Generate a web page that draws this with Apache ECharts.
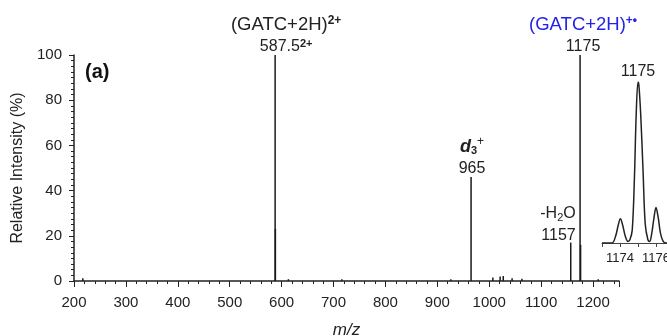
<!DOCTYPE html>
<html>
<head>
    <meta charset="utf-8">
    <title>ECharts</title>
    <script src="https://cdn.jsdelivr.net/npm/echarts@6/dist/echarts.min.js"></script>
</head>
<body style="margin:0">
    <div id="main" style="width: 667px;height:336px;"></div>
    <script>
        var myChart = echarts.init(document.getElementById("main"));

        // main spectrum: m/z and relative intensity (%)
        var peakMz = [217, 587.5, 588, 613, 716, 926, 965, 1007, 1021, 1027, 1044, 1063, 1157, 1175, 1176, 1210];
        var peakInt = [1.2, 100, 23, 0.8, 0.8, 0.8, 46, 1.5, 2, 2.2, 1.2, 1, 17, 100, 16, 0.8];

        // inset profile around 1175
        var insetMz = [1173.0, 1173.55, 1173.75, 1173.9, 1174.02, 1174.15, 1174.3, 1174.45, 1174.55, 1174.68,
            1174.8, 1174.9, 1175.0, 1175.05, 1175.15, 1175.28, 1175.4, 1175.55, 1175.65, 1175.75,
            1175.88, 1176.0, 1176.12, 1176.25, 1176.4, 1176.55, 1177.0];
        var insetInt = [0, 0, 4, 11, 15, 11, 4, 1, 2, 8,
            40, 80, 100, 98, 80, 45, 12, 2, 1, 5,
            15, 22, 16, 6, 1, 0, 0];

        var xTicks = [200, 300, 400, 500, 600, 700, 800, 900, 1000, 1100, 1200];
        var insetTicks = [1174, 1176];

        var font = 'Liberation Sans, Arial, sans-serif';
        var ink = '#222';
        var blue = '#2323e8';

        var rich = {
            a: { fontSize: 18.5, color: ink, lineHeight: 23, fontFamily: font },
            n: { fontSize: 16, color: ink, lineHeight: 22, fontFamily: font },
            sup: { fontSize: 12, fontWeight: 'bold', color: ink, padding: [0, 0, 8, 0], fontFamily: font },
            nsup: { fontSize: 11, fontWeight: 'bold', color: ink, padding: [0, 0, 7, 0], fontFamily: font },
            b: { fontSize: 18.5, color: blue, lineHeight: 23, fontFamily: font },
            bsup: { fontSize: 12, fontWeight: 'bold', color: blue, padding: [0, 0, 8, 0], fontFamily: font },
            d: { fontSize: 18, fontWeight: 'bold', fontStyle: 'italic', color: ink, lineHeight: 23, fontFamily: font },
            dsub: { fontSize: 11, fontWeight: 'bold', color: ink, padding: [8, 0, 0, 0], fontFamily: font },
            dsup: { fontSize: 12, color: ink, padding: [0, 0, 10, 0], fontFamily: font },
            sub: { fontSize: 11, color: ink, padding: [8, 0, 0, 0], fontFamily: font }
        };

        var peakLabels = {
            587.5: { formatter: '{a|(GATC+2H)}{sup|2+}\n{n|587.5}{nsup|2+}', offset: [11, 0] },
            965: { formatter: '{d|d}{dsub|3}{dsup|+}\n{n|965}', offset: [1, 0] },
            1157: { formatter: '{n|-H}{sub|2}{n|O}\n{n|1157}', align: 'right', offset: [5, 0], distance: -4 },
            1175: { formatter: '{b|(GATC+2H)}{bsup|+•}\n{n|1175}', offset: [3, 0] }
        };

        var barData = peakMz.map(function (mz, i) {
            var item = { value: [mz, peakInt[i]] };
            if (peakLabels[mz]) {
                item.label = Object.assign({ show: true, position: 'top', distance: -3, rich: rich }, peakLabels[mz]);
            }
            return item;
        });

        var insetData = insetMz.map(function (mz, i) {
            var item = { value: [mz, insetInt[i]] };
            if (mz === 1175.0) {
                item.label = { show: true, position: 'top', distance: 2, formatter: '1175', fontSize: 16, color: ink, fontFamily: font };
            }
            return item;
        });

        option = {
            animation: false,
            textStyle: { fontFamily: font },
            grid: [
                { left: 74, top: 55, width: 545, height: 226, outerBoundsMode: 'none' },
                { left: 602, top: 82, width: 72, height: 161, outerBoundsMode: 'none' }
            ],
            xAxis: [{
                type: 'value',
                gridIndex: 0,
                min: 200,
                max: 1250,
                interval: 100,
                name: 'm/z',
                nameLocation: 'middle',
                nameGap: 41,
                nameTextStyle: { fontSize: 17, fontStyle: 'italic', color: ink },
                axisLine: { lineStyle: { color: ink, width: 1.5 } },
                axisTick: { length: 6, lineStyle: { color: ink } },
                minorTick: { show: true, splitNumber: 5, length: 3, lineStyle: { color: ink } },
                splitLine: { show: false },
                axisLabel: {
                    fontSize: 15, color: ink, margin: 14, showMaxLabel: false,
                    formatter: function (v) { return xTicks.indexOf(v) >= 0 ? String(v) : ''; }
                }
            }, {
                type: 'value',
                gridIndex: 1,
                min: 1173,
                max: 1177,
                interval: 1,
                axisLine: { lineStyle: { color: '#444', width: 1 } },
                axisTick: { length: 4, lineStyle: { color: '#444' } },
                splitLine: { show: false },
                axisLabel: {
                    fontSize: 13, color: ink, margin: 9,
                    formatter: function (v) { return insetTicks.indexOf(v) >= 0 ? String(v) : ''; }
                }
            }],
            yAxis: [{
                type: 'value',
                gridIndex: 0,
                min: 0,
                max: 100,
                interval: 20,
                name: 'Relative Intensity (%)',
                nameLocation: 'middle',
                nameGap: 44,
                nameTextStyle: { fontSize: 16, color: ink },
                axisLine: { show: true, lineStyle: { color: ink, width: 1.5 } },
                axisTick: { show: true, length: 5, lineStyle: { color: ink } },
                minorTick: { show: true, splitNumber: 8, length: 3, lineStyle: { color: ink } },
                splitLine: { show: false },
                axisLabel: { fontSize: 15, color: ink, margin: 12 }
            }, {
                type: 'value',
                gridIndex: 1,
                min: 0,
                max: 100,
                show: false
            }],
            graphic: [{
                type: 'text',
                left: 85,
                top: 62,
                style: { text: '(a)', font: 'bold 20px ' + font, fill: '#111' }
            }],
            series: [{
                type: 'bar',
                xAxisIndex: 0,
                yAxisIndex: 0,
                barWidth: 1.5,
                itemStyle: { color: '#1a1a1a' },
                data: barData
            }, {
                type: 'line',
                xAxisIndex: 1,
                yAxisIndex: 1,
                smooth: 0.35,
                symbol: 'circle',
                symbolSize: 0,
                showSymbol: true,
                lineStyle: { color: '#222', width: 1.5 },
                data: insetData
            }]
        };

        myChart.setOption(option);
    </script>
</body>
</html>
